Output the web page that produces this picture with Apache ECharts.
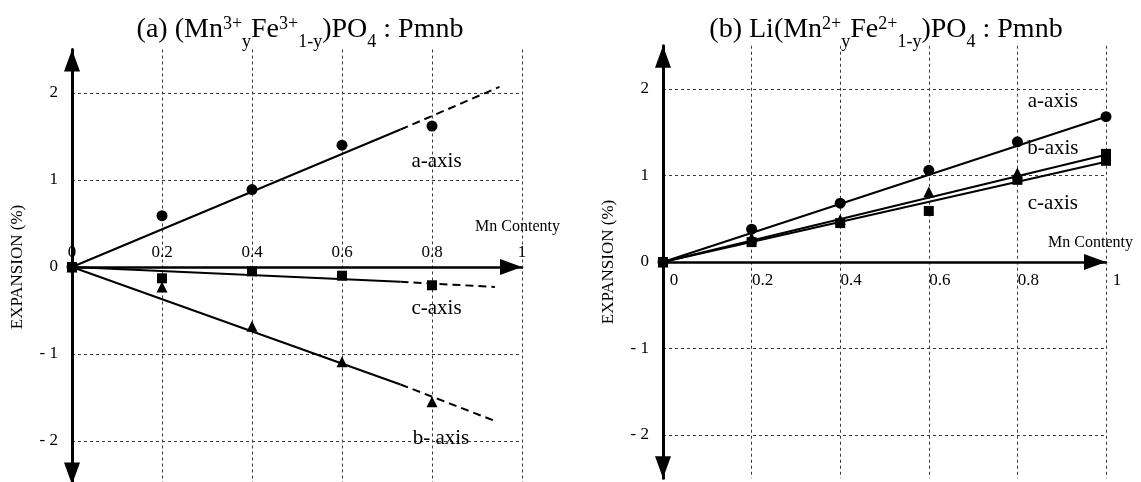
<!DOCTYPE html>
<html><head><meta charset="utf-8">
<script src="https://cdn.jsdelivr.net/npm/echarts@6/dist/echarts.min.js"></script>
<style>html,body{margin:0;padding:0;background:#fff}#c{width:1141px;height:482px}</style>
</head><body><div id="c"></div>
<script>
// ---------- data ----------
// Panel (a): (Mn3+ y Fe3+ 1-y)PO4
const mnLeft = [0, 0.2, 0.4, 0.6, 0.8];
const leftA = [0, 0.59, 0.89, 1.40, 1.62];     // circles
const leftB = [0, -0.23, -0.68, -1.09, -1.55]; // triangles
const leftC = [0, -0.13, -0.05, -0.10, -0.21]; // squares
// fitted lines: solid part and dashed extrapolation (endpoints)
const leftAFitSolid = [[0, 0], [0.73, 1.58]];
const leftAFitDash  = [[0.73, 1.58], [0.95, 2.07]];
const leftBFitSolid = [[0, 0], [0.73, -1.35]];
const leftBFitDash  = [[0.73, -1.35], [0.94, -1.77]];
const leftCFitSolid = [[0, 0], [0.73, -0.17]];
const leftCFitDash  = [[0.73, -0.17], [0.94, -0.23]];

// Panel (b): Li(Mn2+ y Fe2+ 1-y)PO4
const mnRight = [0, 0.2, 0.4, 0.6, 0.8, 1.0];
const rightA = [0, 0.38, 0.68, 1.06, 1.39, 1.68]; // circles
const rightB = [0, 0.28, 0.49, 0.81, 1.03, 1.25]; // triangles
const rightC = [0, 0.23, 0.45, 0.59, 0.95, 1.17]; // squares
const rightAFit = [[0, 0], [1, 1.68]];
const rightBFit = [[0, 0], [1, 1.24]];
const rightCFit = [[0, 0], [1, 1.16]];

// tick settings
const xMin = 0, xMax = 1, xStep = 0.2;
const yMin = -2.5, yMax = 2.5, yStep = 0.5;

// text labels and their anchor points (data coordinates)
const leftLabels  = [['a-axis', 0.81, 1.21], ['c-axis', 0.81, -0.48], ['b- axis', 0.82, -1.97], ['Mn Contenty', 0.99, 0.46]];
const rightLabels = [['a-axis', 0.88, 1.86], ['b-axis', 0.88, 1.31], ['c-axis', 0.88, 0.68], ['Mn Contenty', 0.965, 0.22]];
const titleLeft  = '(a) (Mn{sp|3+}{sb|y}Fe{sp|3+}{sb|1-y})PO{sb|4} : Pmnb';
const titleRight = '(b) Li(Mn{sp|2+}{sb|y}Fe{sp|2+}{sb|1-y})PO{sb|4} : Pmnb';
const yName = 'EXPANSION (%)';

// ---------- chart ----------
const FF = "'Liberation Serif','Times New Roman',Times,serif";
const zip = (xs, ys) => xs.map((x, i) => [x, ys[i]]);
const yFmt = v => {
  const r = Math.round(v * 100) / 100;
  if (Math.abs(r - Math.round(r)) > 1e-6) return '';
  return r < 0 ? '- ' + (-r) : String(r);
};
const gridStroke = '#3a3a3a';

function xAxisCfg(gi, inside, pad, off) {
  return {
    gridIndex: gi, type: 'value', min: xMin, max: xMax, interval: xStep,
    position: 'bottom', offset: off,
    axisLine: { show: true, onZero: false, lineStyle: { color: '#000', width: 2.5 },
      symbol: ['none', 'triangle'], symbolSize: [16, 22], symbolOffset: [0, -11] },
    axisTick: { show: false },
    axisLabel: { inside: inside, margin: inside ? 6 : 10, color: '#000', fontFamily: FF, fontSize: 17,
      padding: pad, showMinLabel: true, showMaxLabel: true },
    splitLine: { show: true, lineStyle: { color: gridStroke, type: [3, 3], width: 1 } }
  };
}
function yAxisCfg(gi, gap) {
  return {
    gridIndex: gi, type: 'value', min: yMin, max: yMax, interval: yStep,
    axisLine: { show: true, onZero: false, lineStyle: { color: '#000', width: 3 },
      symbol: ['triangle', 'triangle'], symbolSize: [16, 22], symbolOffset: [11, -11] },
    axisTick: { show: false },
    axisLabel: { margin: 14, color: '#000', fontFamily: FF, fontSize: 17, formatter: yFmt },
    splitLine: { show: true, lineStyle: { color: ['rgba(0,0,0,0)', gridStroke], type: [3, 3], width: 1 } },
    name: yName, nameLocation: 'middle', nameGap: gap,
    nameTextStyle: { fontFamily: FF, fontSize: 17, color: '#000' }
  };
}
function lineSeries(gi, data, dashed) {
  return { type: 'line', xAxisIndex: gi, yAxisIndex: gi, data: data, symbol: 'none', z: 2,
    lineStyle: { color: '#000', width: 2, type: dashed ? [8, 5] : 'solid' }, silent: true };
}
function markSeries(gi, data, symbol, size) {
  return { type: 'scatter', xAxisIndex: gi, yAxisIndex: gi, data: data, symbol: symbol,
    symbolSize: size, itemStyle: { color: '#000', opacity: 1 }, z: 3, silent: true };
}
function labelSeries(gi, labels) {
  return { type: 'scatter', xAxisIndex: gi, yAxisIndex: gi, symbolSize: 1, silent: true, z: 4,
    itemStyle: { color: 'rgba(0,0,0,0)' },
    data: labels.map(l => ({ name: l[0], value: [l[1], l[2]] })),
    label: { show: true, position: 'inside', formatter: '{b}', color: '#000', fontFamily: FF, fontSize: 21,
      textBorderWidth: 0, opacity: 1 }
  };
}
function titleCfg(text, cx) {
  return {
    text: text, left: cx, top: 9, textAlign: 'center', padding: 0,
    textStyle: { fontFamily: FF, fontSize: 28, fontWeight: 'normal', color: '#000', lineHeight: 42,
      rich: {
        sp: { fontFamily: FF, fontSize: 18, lineHeight: 18, verticalAlign: 'top', padding: [6, 0, 0, 0] },
        sb: { fontFamily: FF, fontSize: 18, lineHeight: 18, verticalAlign: 'bottom' }
      } }
  };
}

const leftLbl = labelSeries(0, leftLabels);
leftLbl.data[3].label = { fontSize: 16 };
const rightLbl = labelSeries(1, rightLabels);
rightLbl.data[3].label = { fontSize: 16 };
const rightBData = zip(mnRight, rightB).map((p, i) => i === mnRight.length - 1 ? { value: p, symbol: 'rect', symbolSize: 10 } : p);

const gL = { left: 72, top: 49.5, width: 450, height: 435 };
const gR = { left: 663, top: 45.75, width: 443, height: 432.5 };

const option = {
  animation: false,
  backgroundColor: '#fff',
  title: [titleCfg(titleLeft, 300), titleCfg(titleRight, 886)],
  grid: [
    Object.assign({ containLabel: false, outerBoundsMode: 'none' }, gL),
    Object.assign({ containLabel: false, outerBoundsMode: 'none' }, gR)
  ],
  xAxis: [xAxisCfg(0, true, 0, -gL.height / 2), xAxisCfg(1, false, [0, 0, 0, 22], -gR.height / 2)],
  yAxis: [yAxisCfg(0, 46), yAxisCfg(1, 46)],
  series: [
    lineSeries(0, leftAFitSolid, false), lineSeries(0, leftAFitDash, true),
    lineSeries(0, leftBFitSolid, false), lineSeries(0, leftBFitDash, true),
    lineSeries(0, leftCFitSolid, false), lineSeries(0, leftCFitDash, true),
    markSeries(0, zip(mnLeft, leftA), 'circle', 11),
    markSeries(0, zip(mnLeft, leftB), 'triangle', 11),
    markSeries(0, zip(mnLeft, leftC), 'rect', 10),
    leftLbl,
    lineSeries(1, rightAFit, false), lineSeries(1, rightBFit, false), lineSeries(1, rightCFit, false),
    markSeries(1, zip(mnRight, rightA), 'circle', 11),
    markSeries(1, rightBData, 'triangle', 11),
    markSeries(1, zip(mnRight, rightC), 'rect', 10),
    rightLbl
  ]
};
const chart = echarts.init(document.getElementById('c'), null, { renderer: 'canvas' });
chart.setOption(option);
</script>
</body></html>
